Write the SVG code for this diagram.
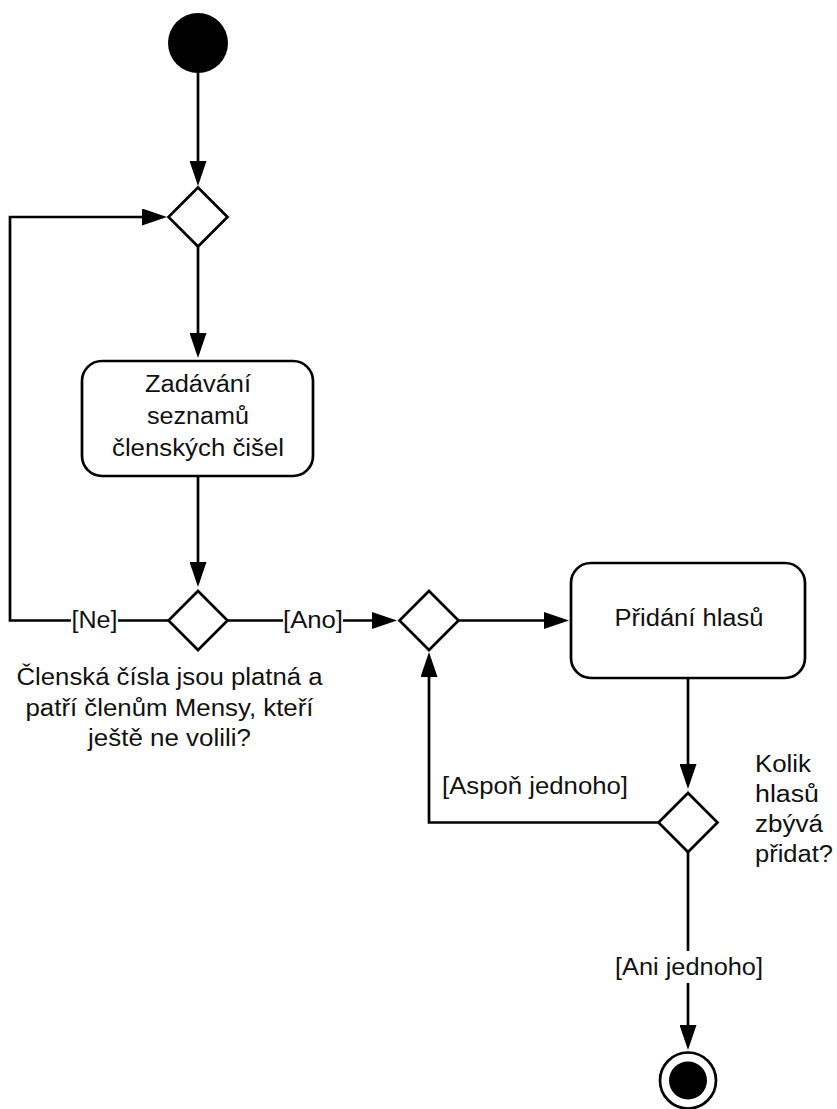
<svg xmlns="http://www.w3.org/2000/svg" width="837" height="1109" viewBox="0 0 837 1109">
  <style>
    .shape { fill: #ffffff; stroke: #000000; stroke-width: 2.7; }
    .solid { fill: #000000; stroke: none; }
    .edge { fill: none; stroke: #000000; stroke-width: 2.7; marker-end: url(#arrow); }
    text { font-family: "Liberation Sans", Arial, sans-serif; font-size: 23px; fill: #111111; }
    .mid { text-anchor: middle; }
    .bg { fill: #ffffff; stroke: none; }
  </style>
  <defs>
    <!-- filled arrowhead; tip reaches 5px beyond the path end -->
    <marker id="arrow" markerUnits="userSpaceOnUse" viewBox="0 0 25 17" markerWidth="25" markerHeight="17" refX="20" refY="8.5" orient="auto">
      <path d="M0,0 L25,8.5 L0,17 z" fill="#000000"/>
    </marker>
  </defs>

  <rect width="837" height="1109" fill="#ffffff"/>

  <!-- connectors -->
  <g id="connectors">
    <path class="edge" d="M198,73 V181"/>
    <path class="edge" d="M168.5,620.5 H10 V217 H162"/>
    <path class="edge" d="M198,246.5 V353"/>
    <path class="edge" d="M198,476 V582"/>
    <path class="edge" d="M227.5,620.5 H392"/>
    <path class="edge" d="M458.5,620.5 H564"/>
    <path class="edge" d="M688,678 V784"/>
    <path class="edge" d="M658.5,822.5 H429 V657"/>
    <path class="edge" d="M688,852 V1045"/>
  </g>

  <!-- guard labels on connectors -->
  <g id="labels">
    <rect class="bg" x="71" y="607" width="47" height="26"/>
    <text class="mid" x="94.5" y="627.5" textLength="46" lengthAdjust="spacingAndGlyphs">[Ne]</text>
    <rect class="bg" x="283" y="607" width="60" height="26"/>
    <text class="mid" x="313" y="627.5" textLength="60" lengthAdjust="spacingAndGlyphs">[Ano]</text>
    <text x="442" y="794" textLength="186" lengthAdjust="spacingAndGlyphs">[Aspoň jednoho]</text>
    <rect class="bg" x="614" y="951" width="150" height="32"/>
    <text class="mid" x="689" y="975" textLength="148" lengthAdjust="spacingAndGlyphs">[Ani jednoho]</text>
  </g>

  <g id="start">
    <circle class="solid" cx="198" cy="43" r="30"/>
  </g>

  <g id="merge1">
    <polygon class="shape" points="198,187.5 227.5,217 198,246.5 168.5,217"/>
  </g>

  <g id="zadavani">
    <rect class="shape" x="82" y="361" width="231" height="115" rx="20" ry="20"/>
    <text class="mid" x="198" y="392" textLength="106" lengthAdjust="spacingAndGlyphs">Zadávání</text>
    <text class="mid" x="198" y="424" textLength="102" lengthAdjust="spacingAndGlyphs">seznamů</text>
    <text class="mid" x="198" y="455.5" textLength="172" lengthAdjust="spacingAndGlyphs">členských čišel</text>
  </g>

  <g id="decision-valid">
    <polygon class="shape" points="198,591 227.5,620.5 198,650 168.5,620.5"/>
    <text class="mid" x="169.5" y="685" textLength="306" lengthAdjust="spacingAndGlyphs">Členská čísla jsou platná a</text>
    <text class="mid" x="169.5" y="715.5" textLength="288" lengthAdjust="spacingAndGlyphs">patří členům Mensy, kteří</text>
    <text class="mid" x="169.5" y="745.5" textLength="163" lengthAdjust="spacingAndGlyphs">ještě ne volili?</text>
  </g>

  <g id="merge2">
    <polygon class="shape" points="429,591 458.5,620.5 429,650 399.5,620.5"/>
  </g>

  <g id="pridani">
    <rect class="shape" x="571" y="563" width="234" height="115" rx="20" ry="20"/>
    <text class="mid" x="689" y="626" textLength="149" lengthAdjust="spacingAndGlyphs">Přidání hlasů</text>
  </g>

  <g id="decision-remaining">
    <polygon class="shape" points="688,793 717.5,822.5 688,852 658.5,822.5"/>
    <text x="755" y="772" textLength="56" lengthAdjust="spacingAndGlyphs">Kolik</text>
    <text x="755" y="802" textLength="64" lengthAdjust="spacingAndGlyphs">hlasů</text>
    <text x="755" y="832" textLength="68" lengthAdjust="spacingAndGlyphs">zbývá</text>
    <text x="755" y="862" textLength="78" lengthAdjust="spacingAndGlyphs">přidat?</text>
  </g>

  <g id="end">
    <circle class="shape" cx="688" cy="1080.5" r="28"/>
    <circle class="solid" cx="688" cy="1080.5" r="19"/>
  </g>
</svg>
